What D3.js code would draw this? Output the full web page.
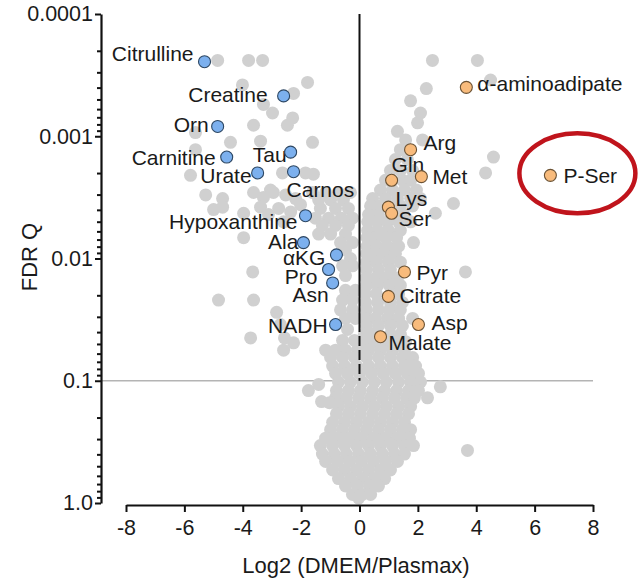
<!DOCTYPE html>
<html>
<head>
<meta charset="utf-8">
<script src="https://cdn.jsdelivr.net/npm/d3@7"></script>
<style>
  html, body { margin: 0; padding: 0; background: #fff; }
  svg { display: block; font-family: "Liberation Sans", Arial, Helvetica, sans-serif; }
</style>
</head>
<body>
<svg id="chart" width="644" height="584"></svg>
<script>
// Metabolites significantly lower in DMEM than in Plasmax
const lowerNames = ["Citrulline", "Creatine", "Orn", "Carnitine", "Tau", "Urate", "Carnos",
  "Hypoxanthine", "Ala", "\u03b1KG", "Pro", "Asn", "NADH"];
const lowerLog2FC = [-5.31, -2.60, -4.86, -4.55, -2.36, -3.49, -2.26, -1.85, -1.92, -0.79, -1.06, -0.92, -0.82];
const lowerNegLog10Q = [3.61, 3.33, 3.08, 2.83, 2.87, 2.70, 2.71, 2.35, 2.13, 2.03, 1.91, 1.80, 1.46];

// Metabolites significantly higher in DMEM
const higherNames = ["\u03b1-aminoadipate", "Arg", "Gln", "Met", "P-Ser", "Lys", "Ser", "Pyr",
  "Citrate", "Asp", "Malate"];
const higherLog2FC = [3.66, 1.75, 1.10, 2.12, 6.54, 0.99, 1.10, 1.54, 0.99, 2.02, 0.72];
const higherNegLog10Q = [3.40, 2.89, 2.64, 2.67, 2.68, 2.42, 2.37, 1.89, 1.69, 1.46, 1.36];

// All other measured features: [log2 fold change, -log10 FDR Q]
const otherMetabolites = [
  // sparse, strongly lower
  [-4.86, 3.62], [-3.80, 3.62], [-3.32, 3.62], [-1.78, 3.44], [-4.01, 3.42], [-2.26, 3.35],
  [-3.29, 3.26], [-2.98, 3.19], [-2.29, 3.15], [-2.47, 3.09], [-3.63, 3.09], [-5.62, 3.03],
  [-4.42, 2.95], [-3.39, 2.96], [-1.61, 2.95], [-5.62, 2.89], [-5.79, 2.68], [-2.64, 2.70],
  [-1.85, 2.70], [-1.58, 2.69], [-3.05, 2.56], [-3.63, 2.54],
  [-5.27, 2.52], [-4.69, 2.49], [-5.00, 2.40], [-4.69, 2.42], [-3.97, 2.37], [-3.29, 2.50],
  [-2.95, 2.54], [-3.39, 2.42], [-3.97, 2.17], [-3.66, 1.89], [-4.83, 1.66], [-3.63, 1.66],
  [-3.73, 1.35], [-2.60, 1.25], [-2.26, 1.31],
  [-2.53, 2.52], [-2.19, 2.49], [-2.77, 2.41], [-2.36, 2.38], [-3.12, 2.36], [-2.60, 2.30],
  [-2.02, 2.44], [-2.84, 1.56], [-2.71, 1.46], [-2.57, 1.35],
  // lower side, close to zero
  [-1.61, 2.54], [-1.16, 2.54], [-0.72, 2.54], [-0.31, 2.54],
  [-1.40, 2.48], [-0.99, 2.48], [-0.55, 2.48],
  [-1.34, 2.41], [-0.82, 2.41], [-0.38, 2.41],
  [-1.51, 2.33], [-1.06, 2.33], [-0.62, 2.33], [-0.24, 2.33],
  [-1.27, 2.27], [-0.82, 2.27], [-0.38, 2.27],
  [-1.40, 2.20], [-0.99, 2.20], [-0.48, 2.20],
  [-0.65, 2.13], [-0.24, 2.13], [-0.48, 2.07], [-0.31, 2.00], [-0.58, 1.94], [-0.24, 1.94],
  [-0.48, 1.86], [-0.48, 1.74], [-0.14, 1.74], [-0.58, 1.66], [-0.24, 1.66], [-0.65, 1.58],
  [-0.24, 1.58], [-0.48, 1.51], [-0.14, 1.51], [-0.41, 1.42], [-0.58, 1.33], [-0.17, 1.33],
  // sparse, higher
  [2.50, 3.62], [4.04, 3.62], [4.49, 3.46], [2.29, 3.39], [1.75, 3.29], [2.09, 3.19],
  [1.99, 3.11], [1.30, 3.04], [2.16, 2.97], [4.59, 2.83], [4.32, 2.70], [3.22, 2.45],
  [2.60, 2.37], [1.85, 2.13], [3.63, 1.89], [2.77, 0.95], [3.70, 0.43],
  // higher side band
  [1.58, 2.97], [1.40, 2.89], [1.23, 2.81], [1.64, 2.81], [1.06, 2.72], [1.40, 2.72],
  [1.82, 2.72], [0.89, 2.64], [1.47, 2.64], [1.75, 2.64],
  [0.72, 2.56], [1.13, 2.56], [1.54, 2.56], [1.95, 2.56],
  [0.45, 2.49], [0.89, 2.49], [1.30, 2.49], [1.75, 2.49], [2.09, 2.49],
  [0.38, 2.43], [0.72, 2.43], [1.40, 2.43], [1.82, 2.43],
  [0.31, 2.36], [0.65, 2.36], [1.51, 2.36],
  [0.28, 2.30], [0.62, 2.30], [0.96, 2.30], [1.34, 2.30], [1.75, 2.30],
  [0.28, 2.23], [0.62, 2.23], [0.99, 2.23], [1.40, 2.23],
  [0.26, 2.17], [0.55, 2.17], [0.89, 2.17], [1.27, 2.17],
  [0.26, 2.10], [0.58, 2.10], [0.96, 2.10], [1.34, 2.10],
  [0.24, 2.04], [0.52, 2.04], [0.86, 2.04], [1.23, 2.04],
  [0.24, 1.97], [0.58, 1.97], [0.99, 1.97], [1.40, 1.97],
  [0.24, 1.91], [0.65, 1.91], [1.06, 1.91],
  [0.22, 1.84], [0.55, 1.84], [0.92, 1.84], [1.30, 1.84],
  [0.24, 1.78], [0.62, 1.78], [1.03, 1.78], [1.40, 1.78],
  [0.20, 1.71], [0.58, 1.71], [1.34, 1.71],
  [0.21, 1.64], [0.62, 1.64], [1.06, 1.64], [1.47, 1.64],
  [0.24, 1.58], [0.65, 1.58], [1.03, 1.58], [1.40, 1.58],
  [0.17, 1.51], [0.55, 1.51], [0.96, 1.51], [1.34, 1.51], [1.82, 1.51],
  [0.24, 1.45], [0.65, 1.45], [1.06, 1.45], [1.47, 1.45],
  [0.17, 1.38], [0.45, 1.38], [1.06, 1.38], [1.40, 1.38],
  [0.21, 1.32], [0.55, 1.32], [0.89, 1.32], [1.27, 1.32], [1.58, 1.32],
  // dense, non-significant core
  [-1.16, 1.25], [-0.82, 1.25], [-0.48, 1.25], [-0.07, 1.25], [0.31, 1.25], [0.72, 1.25], [1.13, 1.25], [1.54, 1.25],
  [-0.99, 1.19], [-0.58, 1.19], [-0.17, 1.19], [0.24, 1.19], [0.65, 1.19], [1.06, 1.19], [1.47, 1.19], [1.82, 1.19],
  [-0.92, 1.12], [-0.51, 1.12], [-0.10, 1.12], [0.31, 1.12], [0.72, 1.12], [1.13, 1.12], [1.54, 1.12], [1.92, 1.12],
  [-0.82, 1.06], [-0.41, 1.06], [0.00, 1.06], [0.41, 1.06], [0.82, 1.06], [1.23, 1.06], [1.64, 1.06], [2.02, 1.06],
  [-0.72, 0.99], [-0.31, 0.99], [0.10, 0.99], [0.51, 0.99], [0.92, 0.99], [1.34, 0.99], [1.75, 0.99], [2.09, 0.99],
  [-1.75, 0.92], [-1.40, 0.97],
  [-0.79, 0.92], [-0.38, 0.92], [0.03, 0.92], [0.45, 0.92], [0.86, 0.92], [1.27, 0.92], [1.68, 0.92], [2.02, 0.92],
  [-0.82, 0.86], [-0.45, 0.86], [-0.03, 0.86], [0.38, 0.86], [0.79, 0.86], [1.20, 0.86], [1.61, 0.86], [1.88, 0.86], [2.33, 0.86],
  [-1.30, 0.83], [-1.03, 0.82],
  [-0.72, 0.79], [-0.31, 0.79], [0.10, 0.79], [0.51, 0.79], [0.92, 0.79], [1.34, 0.79], [1.75, 0.79],
  [-0.79, 0.73], [-0.38, 0.73], [0.03, 0.73], [0.45, 0.73], [0.86, 0.73], [1.27, 0.73], [1.68, 0.73],
  [-0.92, 0.66], [-0.51, 0.66], [-0.10, 0.66], [0.31, 0.66], [0.72, 0.66], [1.13, 0.66], [1.54, 0.66],
  [-0.99, 0.60], [-0.58, 0.60], [-0.17, 0.60], [0.24, 0.60], [0.65, 0.60], [1.06, 0.60], [1.47, 0.60], [1.75, 0.60],
  [-1.16, 0.53], [-0.75, 0.53], [-0.34, 0.53], [0.07, 0.53], [0.48, 0.53], [0.89, 0.53], [1.30, 0.53], [1.71, 0.53],
  [-1.34, 0.47], [-0.92, 0.47], [-0.51, 0.47], [-0.10, 0.47], [0.31, 0.47], [0.72, 0.47], [1.13, 0.47], [1.54, 0.47], [1.85, 0.47],
  [-1.27, 0.40], [-0.86, 0.40], [-0.45, 0.40], [-0.03, 0.40], [0.38, 0.40], [0.79, 0.40], [1.20, 0.40], [1.54, 0.40],
  [-1.16, 0.34], [-0.75, 0.34], [-0.34, 0.34], [0.07, 0.34], [0.48, 0.34], [0.89, 0.34], [1.30, 0.34],
  [-0.92, 0.27], [-0.51, 0.27], [-0.10, 0.27], [0.31, 0.27], [0.72, 0.27], [1.06, 0.27],
  [-0.72, 0.20], [-0.31, 0.20], [0.10, 0.20], [0.51, 0.20], [0.86, 0.20],
  [-0.48, 0.14], [-0.07, 0.14], [0.34, 0.14], [0.65, 0.14],
  [-0.24, 0.07], [0.10, 0.07], [0.38, 0.07],
  [-0.03, 0.04]
];

const xTickValues = [-8, -6, -4, -2, 0, 2, 4, 6, 8];
const yTickValues = [0.0001, 0.001, 0.01, 0.1, 1];
const yTickLabels = ["0.0001", "0.001", "0.01", "0.1", "1.0"];
const fdrThreshold = 0.1;

// Label placement relative to each point (pixels)
const labelLayout = {
  "Citrulline": { dx: -11, dy: -1, anchor: "end" },
  "Creatine": { dx: -16, dy: 6, anchor: "end" },
  "Orn": { dx: -9, dy: 6, anchor: "end" },
  "Carnitine": { dx: -11, dy: 8, anchor: "end" },
  "Tau": { dx: -4, dy: 10, anchor: "end" },
  "Urate": { dx: -6, dy: 10, anchor: "end" },
  "Carnos": { dx: -7, dy: 25, anchor: "start" },
  "Hypoxanthine": { dx: -8, dy: 13, anchor: "end" },
  "Ala": { dx: -5, dy: 6, anchor: "end" },
  "\u03b1KG": { dx: -11, dy: 10, anchor: "end" },
  "Pro": { dx: -11, dy: 14, anchor: "end" },
  "Asn": { dx: -4, dy: 19, anchor: "end" },
  "NADH": { dx: -8, dy: 8, anchor: "end" },
  "\u03b1-aminoadipate": { dx: 11, dy: 4, anchor: "start" },
  "Arg": { dx: 13, dy: 0, anchor: "start" },
  "Gln": { dx: 0, dy: -8, anchor: "start" },
  "Met": { dx: 11, dy: 7, anchor: "start" },
  "P-Ser": { dx: 13, dy: 8, anchor: "start" },
  "Lys": { dx: 7, dy: -1, anchor: "start" },
  "Ser": { dx: 7, dy: 13, anchor: "start" },
  "Pyr": { dx: 12, dy: 8, anchor: "start" },
  "Citrate": { dx: 11, dy: 7, anchor: "start" },
  "Asp": { dx: 13, dy: 5, anchor: "start" },
  "Malate": { dx: 8, dy: 13, anchor: "start" }
};

const svg = d3.select("#chart");
const toQ = v => Math.pow(10, -v);

const x = d3.scaleLinear().domain([-8, 8]).range([126, 593]);
const y = d3.scaleLog().domain([1, 0.0001]).range([503, 14]);
const yAxisX = 101;
const xAxisY = 505;
const ink = "#1a1a1a";

// FDR threshold line (beneath the points)
svg.append("line")
  .attr("x1", yAxisX).attr("x2", x(8))
  .attr("y1", y(fdrThreshold)).attr("y2", y(fdrThreshold))
  .attr("stroke", "#b4b4b4").attr("stroke-width", 1.6);

// non-significant / unlabelled features
svg.append("g").selectAll("circle")
  .data(otherMetabolites)
  .join("circle")
  .attr("cx", d => x(d[0]))
  .attr("cy", d => y(toQ(d[1])))
  .attr("r", 6.5)
  .attr("fill", "#d0d0d0");

// zero-change line, dashed where it crosses the dense core
const zeroTop = y(0.0001), zeroBreak = y(0.033), zeroBottom = y(fdrThreshold);
svg.append("line")
  .attr("x1", x(0)).attr("x2", x(0)).attr("y1", zeroTop).attr("y2", zeroBreak)
  .attr("stroke", "#111").attr("stroke-width", 2);
svg.append("line")
  .attr("x1", x(0)).attr("x2", x(0)).attr("y1", zeroBreak).attr("y2", zeroBottom)
  .attr("stroke", "#111").attr("stroke-width", 2).attr("stroke-dasharray", "10,4");

// Axes
const yMinor = [];
[0.0001, 0.001, 0.01, 0.1].forEach(dec => {
  for (let k = 2; k <= 9; k++) yMinor.push(dec * k);
});

svg.append("g")
  .attr("transform", `translate(${yAxisX},0)`)
  .call(d3.axisLeft(y).tickValues(yTickValues).tickSize(6).tickSizeOuter(0).tickPadding(2)
    .tickFormat((d, i) => yTickLabels[i]));
svg.append("g")
  .attr("transform", `translate(${yAxisX},0)`)
  .call(d3.axisLeft(y).tickValues(yMinor).tickSize(4).tickSizeOuter(0).tickFormat(""))
  .call(g => g.select(".domain").remove());

const xAxis = svg.append("g")
  .attr("transform", `translate(0,${xAxisY})`)
  .call(d3.axisBottom(x).tickValues(xTickValues).tickSize(7).tickSizeOuter(0).tickPadding(8)
    .tickFormat(d3.format("d")));

svg.selectAll(".domain").attr("stroke", "#111").attr("stroke-width", 2.2);
svg.selectAll(".tick line").attr("stroke", "#111").attr("stroke-width", 2);
svg.selectAll(".tick text").attr("fill", ink).style("font-size", "21.5px")
  .style("font-family", "\"Liberation Sans\", Arial, sans-serif");
xAxis.selectAll(".tick text").text(d => d < 0 ? "-" + Math.abs(d) : d);

// Axis titles
svg.append("text")
  .attr("x", 356).attr("y", 573)
  .attr("text-anchor", "middle")
  .attr("fill", ink).style("font-size", "22px")
  .text("Log2 (DMEM/Plasmax)");
svg.append("text")
  .attr("transform", "translate(37,257) rotate(-90)")
  .attr("text-anchor", "middle")
  .attr("fill", ink).style("font-size", "22px")
  .text("FDR Q");

// Highlighted metabolites
const lower = lowerNames.map((n, i) => ({ name: n, fc: lowerLog2FC[i], q: toQ(lowerNegLog10Q[i]), group: "lower" }));
const higher = higherNames.map((n, i) => ({ name: n, fc: higherLog2FC[i], q: toQ(higherNegLog10Q[i]), group: "higher" }));
const highlighted = lower.concat(higher);

svg.append("g").selectAll("text")
  .data(highlighted)
  .join("text")
  .attr("x", d => x(d.fc) + labelLayout[d.name].dx)
  .attr("y", d => y(d.q) + labelLayout[d.name].dy)
  .attr("text-anchor", d => labelLayout[d.name].anchor)
  .attr("fill", ink)
  .style("font-size", "21px")
  .text(d => d.name);

svg.append("g").selectAll("circle")
  .data(highlighted)
  .join("circle")
  .attr("cx", d => x(d.fc))
  .attr("cy", d => y(d.q))
  .attr("r", 6)
  .attr("fill", d => d.group === "lower" ? "#7cb0ee" : "#f8bb7c")
  .attr("stroke", d => d.group === "lower" ? "#2c4662" : "#6b5234")
  .attr("stroke-width", 1.1);

// Call-out around P-Ser
const pSer = higher.find(d => d.name === "P-Ser");
svg.append("ellipse")
  .attr("cx", x(pSer.fc) + 27)
  .attr("cy", y(pSer.q) - 2)
  .attr("rx", 58).attr("ry", 40)
  .attr("fill", "none")
  .attr("stroke", "#c0141c")
  .attr("stroke-width", 4.5);
</script>
</body>
</html>
